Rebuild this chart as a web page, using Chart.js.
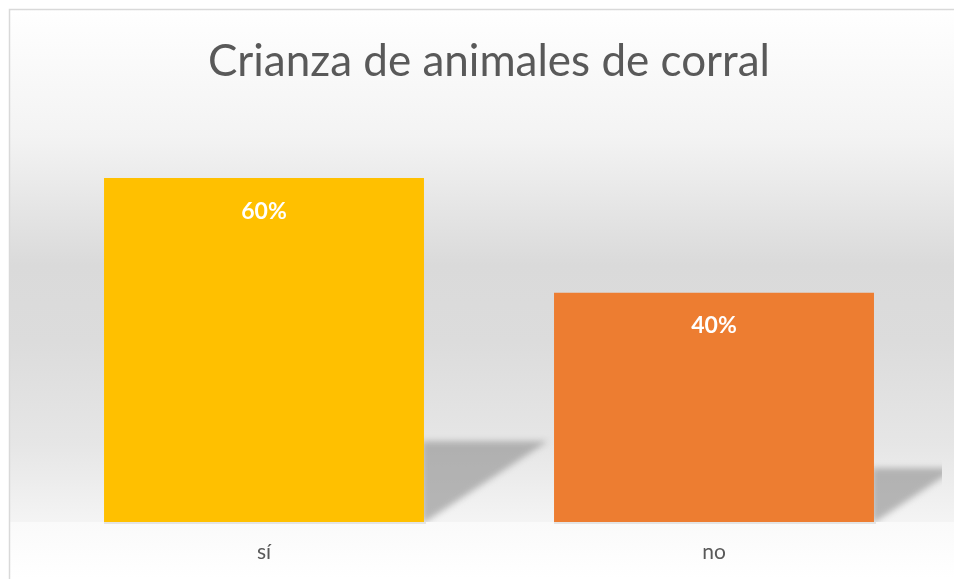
<!DOCTYPE html>
<html>
<head>
<meta charset="utf-8">
<script src="https://cdn.jsdelivr.net/npm/chart.js@4"></script>
<style>
    html, body { margin: 0; padding: 0; background: #ffffff; overflow: hidden; }
    #wrap { width: 954px; height: 579px; }
</style>
</head>
<body>
<div id="wrap"><canvas id="chart"></canvas></div>
<script>
// Chart data
const categories = ['sí', 'no'];
const percentValues = [60, 40];
const barColors = ['#ffc000', '#ed7d31'];
const chartTitle = 'Crianza de animales de corral';

// Paint the framed panel with its soft vertical gradient
const panelBackground = {
    id: 'panelBackground',
    beforeDraw: (chart) => {
        const { ctx, width, height, chartArea } = chart;
        ctx.save();
        ctx.fillStyle = '#ffffff';
        ctx.fillRect(0, 0, width, height);
        const grad = ctx.createLinearGradient(0, 9, 0, chartArea.bottom);
        grad.addColorStop(0, '#ffffff');
        grad.addColorStop(0.25, '#f3f3f3');
        grad.addColorStop(0.5, '#dadada');
        grad.addColorStop(0.65, '#dcdcdc');
        grad.addColorStop(0.85, '#e6e6e6');
        grad.addColorStop(1, '#f4f4f4');
        ctx.fillStyle = grad;
        ctx.fillRect(9, 9, width, chartArea.bottom - 9);
        // floor below the bars
        const floor = ctx.createLinearGradient(0, chartArea.bottom, 0, height);
        floor.addColorStop(0, '#fafafa');
        floor.addColorStop(1, '#ffffff');
        ctx.fillStyle = floor;
        ctx.fillRect(9, chartArea.bottom, width, height - chartArea.bottom);
        ctx.strokeStyle = '#d9d9d9';
        ctx.lineWidth = 1.5;
        ctx.beginPath();
        ctx.moveTo(9.5, height);
        ctx.lineTo(9.5, 9.5);
        ctx.lineTo(width, 9.5);
        ctx.stroke();
        ctx.restore();
    }
};

// Perspective shadow falling to the right of each bar
const barShadows = {
    id: 'barShadows',
    beforeDatasetsDraw: (chart) => {
        const { ctx } = chart;
        const meta = chart.getDatasetMeta(0);
        ctx.save();
        ctx.beginPath();
        ctx.rect(9, 9, 933, chart.chartArea.bottom - 9);
        ctx.clip();
        ctx.filter = 'blur(3px)';
        ctx.fillStyle = 'rgba(140,140,140,0.6)';
        meta.data.forEach(bar => {
            const right = bar.x + bar.width / 2;
            const h = bar.base - bar.y;
            ctx.beginPath();
            ctx.moveTo(right - 2, bar.base + 2);
            ctx.lineTo(right - 2, bar.base - h * 0.235);
            ctx.lineTo(right + h * 0.36, bar.base - h * 0.235);
            ctx.closePath();
            ctx.fill();
        });
        ctx.restore();
        // thin light line under the bars
        ctx.save();
        ctx.fillStyle = '#e4e4e4';
        meta.data.forEach(bar => {
            ctx.fillRect(bar.x - bar.width / 2, bar.base, bar.width + 2, 2);
        });
        ctx.restore();
    }
};

// White percentage labels inside the bars
const valueLabels = {
    id: 'valueLabels',
    afterDatasetsDraw: (chart) => {
        const { ctx } = chart;
        const meta = chart.getDatasetMeta(0);
        ctx.save();
        ctx.fillStyle = '#ffffff';
        ctx.font = 'bold 23px Lato, "Open Sans", sans-serif';
        ctx.textAlign = 'center';
        ctx.textBaseline = 'middle';
        meta.data.forEach((bar, i) => {
            ctx.fillText(percentValues[i] + '%', bar.x, bar.y + 33);
        });
        ctx.restore();
    }
};

new Chart(document.getElementById('chart'), {
    type: 'bar',
    data: {
        labels: categories,
        datasets: [{
            data: percentValues,
            backgroundColor: barColors,
            borderWidth: 0,
            barPercentage: 0.711,
            categoryPercentage: 1
        }]
    },
    options: {
        responsive: true,
        maintainAspectRatio: false,
        animation: false,
        layout: { padding: { top: 8, left: 39, right: 15, bottom: 0 } },
        plugins: {
            legend: { display: false },
            tooltip: { enabled: false },
            title: {
                display: true,
                text: chartTitle,
                color: '#595959',
                font: { family: 'Lato, "Open Sans", sans-serif', size: 44, weight: 'normal', lineHeight: 1.2 },
                padding: { top: 27, bottom: 33 }
            }
        },
        scales: {
            x: {
                grid: { display: false, drawTicks: false },
                border: { display: false },
                afterFit: (scale) => { scale.height = 57; },
                ticks: {
                    color: '#595959',
                    padding: 20,
                    font: { family: 'Lato, "Open Sans", sans-serif', size: 21, lineHeight: 0.95 }
                }
            },
            y: {
                display: false,
                min: 0,
                max: 70
            }
        }
    },
    plugins: [panelBackground, barShadows, valueLabels]
});
</script>
</body>
</html>
